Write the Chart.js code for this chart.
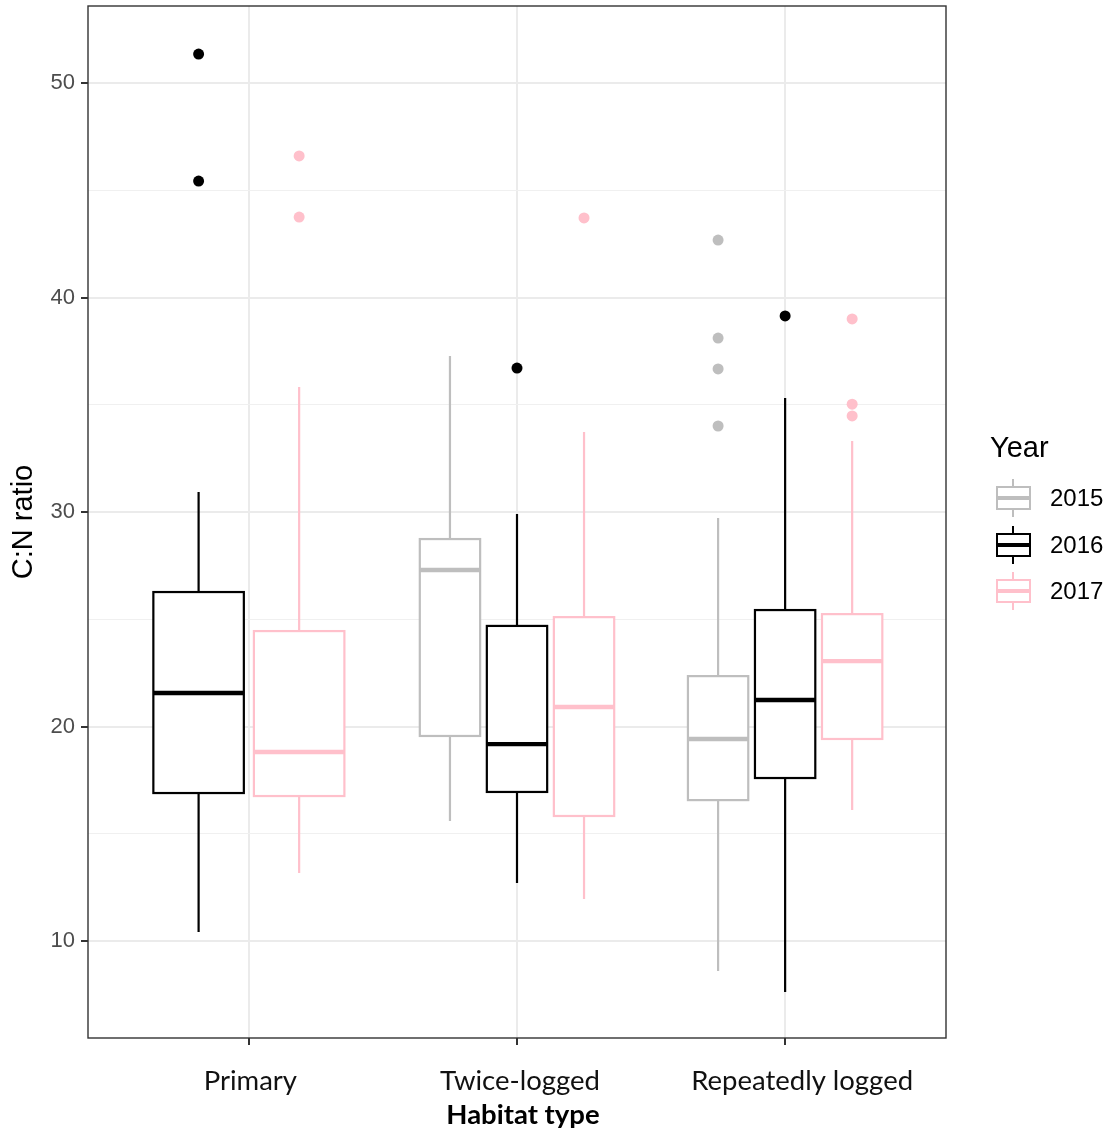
<!DOCTYPE html>
<html>
<head>
<meta charset="utf-8">
<script src="https://cdn.jsdelivr.net/npm/chart.js@4/dist/chart.umd.min.js"></script>
<style>
  body { margin: 0; background: #fff; }
  #wrap { position: relative; width: 1114px; height: 1135px; }
  .lg { position: absolute; font-family: 'Liberation Sans', Arial, sans-serif; color: #000; white-space: nowrap; }
  .whisk { position: absolute; width: 2px; }
  .box { position: absolute; box-sizing: border-box; border: 2px solid; background: #fff; }
  .med { position: absolute; left: 0; right: 0; height: 4px; }
</style>
</head>
<body>
<div id="wrap">
  <canvas id="cn" width="1114" height="1135"></canvas>
  <div id="legend"></div>
</div>
<script>
// habitat categories and survey years
var categories = ['Primary', 'Twice-logged', 'Repeatedly logged'];
var years = ['2015', '2016', '2017'];
var colours = ['#BEBEBE', '#000000', '#FFC0CB'];

// five-number summaries per habitat: [lower whisker, Q1, median, Q3, upper whisker]
var stats2015 = [null, [15.6, 19.56, 27.3, 28.74, 37.27], [8.6, 16.57, 19.42, 22.35, 29.72]];
var stats2016 = [[10.42, 16.9, 21.56, 26.27, 30.93], [12.7, 16.95, 19.18, 24.69, 29.91], [7.62, 17.6, 21.24, 25.43, 35.31]];
var stats2017 = [[13.17, 16.76, 18.81, 24.45, 35.83], [11.96, 15.83, 20.91, 25.1, 33.73], [16.11, 19.42, 23.05, 25.24, 33.31]];

// outlying points per habitat
var outliers2015 = [[], [], [42.68, 38.11, 36.67, 34.01]];
var outliers2016 = [[51.35, 45.43], [36.71], [39.14]];
var outliers2017 = [[46.6, 43.75], [43.71], [39.0, 35.03, 34.48]];

var yTicks = [10, 15, 20, 25, 30, 35, 40, 45, 50];

var allStats = [stats2015, stats2016, stats2017];
var allOutliers = [outliers2015, outliers2016, outliers2017];

// horizontal nudge (px) of each category label from its tick
var labelNudge = [1.5, 3, 17];
var xFont = "27.5px Lato";

// dodge: place each year's box within its habitat slot
function dodge(yi, ci) {
    var present = [];
    for (var k = 0; k < years.length; k++) {
        if (allStats[k][ci]) present.push(k);
    }
    var n = present.length;
    var slot = 0.75 / n;
    var pos = present.indexOf(yi);
    return { x: ci + 1 + (pos - (n - 1) / 2) * slot, half: slot * 0.9 / 2 };
}

var outlierSets = years.map(function (yr, yi) {
    var pts = [];
    allOutliers[yi].forEach(function (vals, ci) {
        vals.forEach(function (v) { pts.push({ x: dodge(yi, ci).x, y: v }); });
    });
    return {
        label: yr,
        data: pts,
        pointRadius: 5.5,
        pointHoverRadius: 5.5,
        borderWidth: 0,
        backgroundColor: colours[yi]
    };
});

var boxPlugin = {
    id: 'boxes',
    beforeDatasetsDraw: function (chart) {
        var ctx = chart.ctx, xs = chart.scales.x, ys = chart.scales.y, a = chart.chartArea;
        ctx.save();
        allStats.forEach(function (st, yi) {
            st.forEach(function (s, ci) {
                if (!s) return;
                var d = dodge(yi, ci);
                var cx = xs.getPixelForValue(d.x);
                var x0 = xs.getPixelForValue(d.x - d.half);
                var x1 = xs.getPixelForValue(d.x + d.half);
                var p = s.map(function (v) { return ys.getPixelForValue(v); });
                ctx.strokeStyle = colours[yi];
                ctx.lineWidth = 2.2;
                ctx.beginPath();
                ctx.moveTo(cx, p[0]); ctx.lineTo(cx, p[1]);
                ctx.moveTo(cx, p[3]); ctx.lineTo(cx, p[4]);
                ctx.stroke();
                ctx.fillStyle = '#fff';
                ctx.fillRect(x0, p[3], x1 - x0, p[1] - p[3]);
                ctx.strokeRect(x0, p[3], x1 - x0, p[1] - p[3]);
                ctx.lineWidth = 4.4;
                ctx.beginPath();
                ctx.moveTo(x0, p[2]); ctx.lineTo(x1, p[2]);
                ctx.stroke();
            });
        });
        // panel border
        ctx.strokeStyle = '#333';
        ctx.lineWidth = 1.4;
        ctx.strokeRect(a.left, a.top, a.right - a.left, a.bottom - a.top);
        ctx.restore();
    },
    afterDraw: function (chart) {
        // category labels and x-axis title
        var ctx = chart.ctx, xs = chart.scales.x, a = chart.chartArea;
        ctx.save();
        ctx.textAlign = 'center';
        ctx.textBaseline = 'middle';
        ctx.fillStyle = '#111';
        ctx.font = xFont;
        categories.forEach(function (c, i) {
            ctx.fillText(c, xs.getPixelForValue(i + 1) + labelNudge[i], a.bottom + 43);
        });
        ctx.fillStyle = '#000';
        ctx.font = 'bold ' + xFont;
        ctx.fillText('Habitat type', (a.left + a.right) / 2 + 6, a.bottom + 77);
        ctx.restore();
    }
};

new Chart(document.getElementById('cn'), {
    type: 'scatter',
    data: { datasets: outlierSets },
    plugins: [boxPlugin],
    options: {
        responsive: false,
        animation: false,
        devicePixelRatio: 1,
        events: [],
        layout: { padding: { left: 0, top: 6, right: 168, bottom: 0 } },
        plugins: { legend: { display: false }, tooltip: { enabled: false } },
        scales: {
            x: {
                type: 'linear',
                min: 0.4,
                max: 3.6,
                afterBuildTicks: function (s) {
                    s.ticks = categories.map(function (c, i) { return { value: i + 1 }; });
                },
                afterFit: function (s) {
                    s.height = 97;
                    s.paddingLeft = 0;
                    s.paddingRight = 0;
                },
                ticks: { display: false },
                grid: { color: '#EBEBEB', lineWidth: 2, tickColor: '#333', tickLength: 7, tickWidth: 2 },
                border: { display: false }
            },
            y: {
                type: 'linear',
                min: 5.48,
                max: 53.59,
                afterBuildTicks: function (s) {
                    s.ticks = yTicks.map(function (v) { return { value: v }; });
                },
                afterFit: function (s) {
                    s.width = 88;
                    s.paddingTop = 0;
                    s.paddingBottom = 0;
                },
                ticks: {
                    callback: function (v) { return v % 10 === 0 ? String(v) : ''; },
                    font: { family: 'Liberation Sans', size: 22 },
                    color: '#4D4D4D',
                    padding: 6
                },
                grid: {
                    color: function (c) { return c.tick && c.tick.value % 10 ? '#F0F0F0' : '#EBEBEB'; },
                    lineWidth: function (c) { return c.tick && c.tick.value % 10 ? 1 : 2; },
                    tickColor: function (c) { return c.tick && c.tick.value % 10 ? 'rgba(0,0,0,0)' : '#333'; },
                    tickLength: 7,
                    tickWidth: 2
                },
                border: { display: false },
                title: {
                    display: true,
                    text: 'C:N ratio',
                    font: { family: 'Liberation Sans', size: 29 },
                    color: '#000',
                    padding: { top: 7, bottom: 0 }
                }
            }
        }
    }
});

// legend for the year colours
var lg = document.getElementById('legend');
var html = '<div class="lg" style="left:990px;top:430px;font-size:29px;line-height:34px;">Year</div>';
years.forEach(function (yr, i) {
    var cy = 498 + 46.5 * i;
    var c = colours[i];
    html += '<div class="whisk" style="left:1012px;top:' + (cy - 19) + 'px;height:38px;background:' + c + '"></div>';
    html += '<div class="box" style="left:996px;top:' + (cy - 12) + 'px;width:35px;height:24px;border-color:' + c + '">' +
            '<div class="med" style="top:8px;background:' + c + '"></div></div>';
    html += '<div class="lg" style="left:1050px;top:' + (cy - 14) + 'px;font-size:24px;line-height:28px;">' + yr + '</div>';
});
lg.innerHTML = html;
</script>
</body>
</html>
